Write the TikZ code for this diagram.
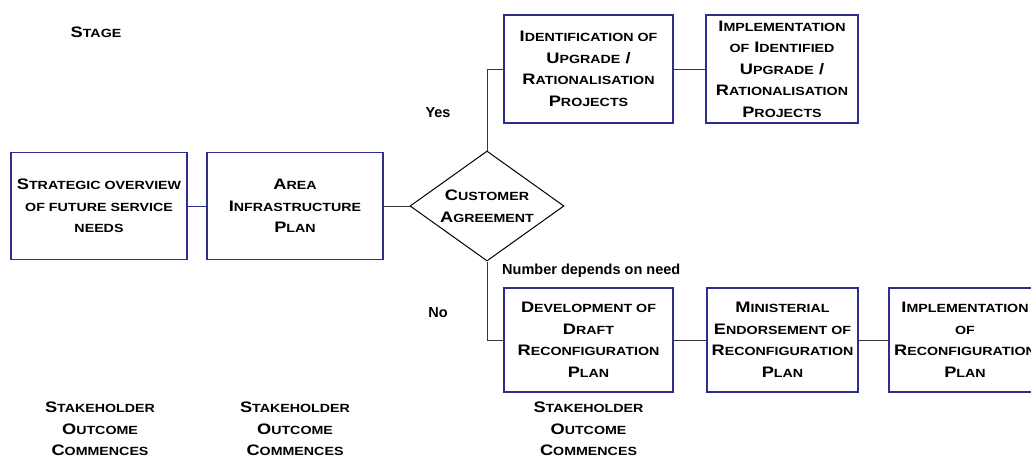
\documentclass[tikz,border=0pt]{standalone}
\usepackage{fontspec}
\setmainfont{Liberation Sans}
% wide bold face for the small-caps style headings
\newfontfamily\capsfont{Liberation Sans}[FakeStretch=1.2]
\usetikzlibrary{shapes.geometric}

\definecolor{boxblue}{RGB}{45,45,140}
\definecolor{linegray}{RGB}{55,55,55}

% lower-case letters set as reduced capitals
\newcommand\Up[1]{{\fontsize{11.86}{21.5}\selectfont\MakeUppercase{#1}}}

\tikzset{
  capsfont/.style={font=\capsfont\bfseries\fontsize{15.2}{21.5}\selectfont},
  stepbox/.style={rectangle, draw=boxblue, line width=1.1pt, fill=white,
                  inner sep=0pt, align=center, capsfont},
  decision/.style={diamond, draw=black, line width=1pt, fill=white,
                   inner sep=0pt, aspect=1.4, align=center, capsfont,
                   minimum width=154pt, minimum height=110pt},
  link/.style={draw=linegray, line width=1pt},
  plainlabel/.style={font=\bfseries\fontsize{14.5}{17}\selectfont, inner sep=0pt},
  caption/.style={capsfont, align=center, inner sep=0pt}
}

\begin{document}
\begin{tikzpicture}[x=1pt,y=-1pt]
\useasboundingbox (0,0) rectangle (1031,458);
\clip (0,0) rectangle (1031,458);

% main line
\node[stepbox, minimum width=176pt, minimum height=107pt] (strat) at (99,206)
  {S\Up{trategic overview}\\\Up{of future service}\\\Up{needs}};
\node[stepbox, minimum width=176pt, minimum height=107pt] (area) at (295,206)
  {A\Up{rea}\\I\Up{nfrastructure}\\P\Up{lan}};
\node[decision] (agree) at (487,206)
  {C\Up{ustomer}\\A\Up{greement}};

% "yes" branch
\node[stepbox, minimum width=169pt, minimum height=108pt] (ident) at (588.5,69)
  {I\Up{dentification of}\\U\Up{pgrade} /\\R\Up{ationalisation}\\P\Up{rojects}};
\node[stepbox, minimum width=152pt, minimum height=108pt] (implup) at (782,69)
  {I\Up{mplementation}\\\Up{of} I\Up{dentified}\\U\Up{pgrade} /\\R\Up{ationalisation}\\P\Up{rojects}};

% "no" branch
\node[stepbox, minimum width=169pt, minimum height=104pt] (devel) at (588.5,340)
  {D\Up{evelopment of}\\D\Up{raft}\\R\Up{econfiguration}\\P\Up{lan}};
\node[stepbox, minimum width=151pt, minimum height=104pt] (minist) at (782.5,340)
  {M\Up{inisterial}\\E\Up{ndorsement of}\\R\Up{econfiguration}\\P\Up{lan}};
\node[stepbox, minimum width=152pt, minimum height=104pt] (implrec) at (965,340)
  {I\Up{mplementation}\\\Up{of}\\R\Up{econfiguration}\\P\Up{lan}};

% connectors
\draw[link, draw=boxblue] (strat) -- (area);
\draw[link] (area) -- (agree);
\draw[link] (agree.north) |- (ident.west);
\draw[link] (agree.south) |- (devel.west);
\draw[link] (ident) -- (implup);
\draw[link] (devel) -- (minist);
\draw[link] (minist) -- (implrec);

% labels
\node[caption] (stage) at (96,32) {S\Up{tage}};
\node[plainlabel] (yes) at (438,113) {Yes};
\node[plainlabel] (no) at (438,313) {No};
\node[plainlabel, anchor=base west] (need) at (502,274) {Number depends on need};

\node[caption] (sh1) at (100,429) {S\Up{takeholder}\\O\Up{utcome}\\C\Up{ommences}};
\node[caption] (sh2) at (295,429) {S\Up{takeholder}\\O\Up{utcome}\\C\Up{ommences}};
\node[caption] (sh3) at (588.5,429) {S\Up{takeholder}\\O\Up{utcome}\\C\Up{ommences}};
\end{tikzpicture}
\end{document}
